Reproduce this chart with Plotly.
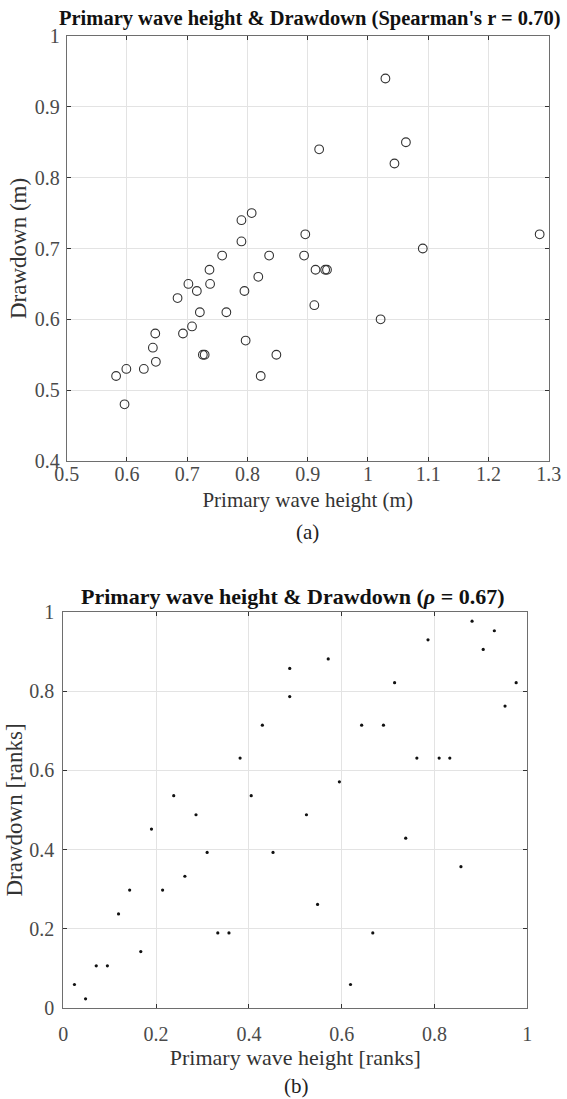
import plotly.graph_objects as go

# ---- data (a): raw values ----
a_wave_height = [0.582, 0.596, 0.599, 0.628, 0.643, 0.647, 0.648, 0.684, 0.693, 0.702,
                 0.708, 0.716, 0.721, 0.726, 0.729, 0.737, 0.738, 0.758, 0.765, 0.790,
                 0.790, 0.795, 0.797, 0.807, 0.818, 0.822, 0.836, 0.848, 0.894, 0.896,
                 0.911, 0.913, 0.919, 0.929, 0.932, 1.021, 1.029, 1.044, 1.063, 1.091,
                 1.285]
a_drawdown = [0.52, 0.48, 0.53, 0.53, 0.56, 0.58, 0.54, 0.63, 0.58, 0.65,
              0.59, 0.64, 0.61, 0.55, 0.55, 0.67, 0.65, 0.69, 0.61, 0.74,
              0.71, 0.64, 0.57, 0.75, 0.66, 0.52, 0.69, 0.55, 0.69, 0.72,
              0.62, 0.67, 0.84, 0.67, 0.67, 0.60, 0.94, 0.82, 0.85, 0.70,
              0.72]

# ---- data (b): ranks ----
b_wave_rank = [0.024, 0.048, 0.071, 0.095, 0.119, 0.143, 0.167, 0.190, 0.214, 0.238,
               0.262, 0.286, 0.310, 0.333, 0.357, 0.381, 0.405, 0.429, 0.452, 0.488,
               0.488, 0.524, 0.548, 0.571, 0.595, 0.619, 0.643, 0.667, 0.690, 0.714,
               0.738, 0.762, 0.786, 0.810, 0.833, 0.857, 0.881, 0.905, 0.929, 0.952,
               0.976]
b_drawdown_rank = [0.060, 0.024, 0.107, 0.107, 0.238, 0.298, 0.143, 0.452, 0.298, 0.536,
                   0.333, 0.488, 0.393, 0.190, 0.190, 0.631, 0.536, 0.714, 0.393, 0.857,
                   0.786, 0.488, 0.262, 0.881, 0.571, 0.060, 0.714, 0.190, 0.714, 0.821,
                   0.429, 0.631, 0.929, 0.631, 0.631, 0.357, 0.976, 0.905, 0.952, 0.762,
                   0.821]

a_xticks = [0.5, 0.6, 0.7, 0.8, 0.9, 1.0, 1.1, 1.2, 1.3]
a_xticklabels = ["0.5", "0.6", "0.7", "0.8", "0.9", "1", "1.1", "1.2", "1.3"]
a_yticks = [0.4, 0.5, 0.6, 0.7, 0.8, 0.9, 1.0]
a_yticklabels = ["0.4", "0.5", "0.6", "0.7", "0.8", "0.9", "1"]
b_ticks = [0, 0.2, 0.4, 0.6, 0.8, 1.0]
b_ticklabels = ["0", "0.2", "0.4", "0.6", "0.8", "1"]

title_a = "Primary wave height & Drawdown (Spearman's r = 0.70)"
title_b = "Primary wave height & Drawdown (<i>ρ</i> = 0.67)"

W, H = 567, 1099
SERIF = "Times New Roman, Liberation Serif, serif"
TICKCOL = "#4a4a4a"
FRAME = "#6e6e6e"
GRID = "#e3e3e3"
TICKFONT = dict(family=SERIF, size=20, color=TICKCOL)

def px_x(p):
    return p / W

def px_y(p):
    return 1 - p / H

fig = go.Figure()
fig.add_trace(go.Scatter(
    x=a_wave_height, y=a_drawdown, mode="markers", xaxis="x", yaxis="y",
    marker=dict(symbol="circle-open", size=8.7, color="#333333", line=dict(width=1.1)),
    showlegend=False, hoverinfo="x+y"))
fig.add_trace(go.Scatter(
    x=b_wave_rank, y=b_drawdown_rank, mode="markers", xaxis="x2", yaxis="y2",
    marker=dict(symbol="circle", size=3.2, color="#111111"),
    showlegend=False, hoverinfo="x+y"))

def axis(**kw):
    d = dict(
        showgrid=True, gridcolor=GRID, gridwidth=1, zeroline=False,
        showline=True, linecolor=FRAME, linewidth=1, mirror="ticks",
        ticks="inside", ticklen=4, tickcolor="#333333", tickwidth=1,
        tickfont=TICKFONT, fixedrange=True, tickmode="array", automargin=False,
    )
    d.update(kw)
    return d

fig.update_layout(
    template="none",
    width=W, height=H,
    margin=dict(l=0, r=0, t=0, b=0),
    paper_bgcolor="white", plot_bgcolor="white",
    font=dict(family=SERIF, size=20, color=TICKCOL),
    xaxis=axis(domain=[px_x(66.7), px_x(548.7)], range=[0.5, 1.3],
               tickvals=a_xticks, ticktext=a_xticklabels, anchor="y",
               ticklabelstandoff=-5,
               title=dict(text="Primary wave height (m)", standoff=8,
                          font=dict(family=SERIF, size=21, color="#333333"))),
    yaxis=axis(domain=[px_y(461), px_y(36)], range=[0.4, 1.0],
               tickvals=a_yticks, ticktext=a_yticklabels, anchor="x",
               ticklabelstandoff=2,
               title=dict(text="Drawdown (m)", standoff=1,
                          font=dict(family=SERIF, size=23, color="#333333"))),
    xaxis2=axis(domain=[px_x(63.3), px_x(527.3)], range=[0, 1],
                tickvals=b_ticks, ticktext=b_ticklabels, anchor="y2",
                ticklabelstandoff=8,
                title=dict(text="Primary wave height [ranks]", standoff=4,
                           font=dict(family=SERIF, size=22, color="#333333"))),
    yaxis2=axis(domain=[px_y(1008.3), px_y(611.7)], range=[0, 1],
                tickvals=b_ticks, ticktext=b_ticklabels, anchor="x2",
                ticklabelstandoff=4,
                title=dict(text="Drawdown [ranks]", standoff=0,
                           font=dict(family=SERIF, size=23, color="#333333"))),
    annotations=[
        dict(text="<b>" + title_a + "</b>", x=px_x(310), y=px_y(19), xref="paper", yref="paper",
             showarrow=False, xanchor="center", yanchor="middle",
             font=dict(family=SERIF, size=20.5, color="#111111")),
        dict(text="<b>" + title_b + "</b>", x=px_x(293), y=px_y(596), xref="paper", yref="paper",
             showarrow=False, xanchor="center", yanchor="middle",
             font=dict(family=SERIF, size=22, color="#111111")),
        dict(text="(a)", x=px_x(307), y=px_y(532), xref="paper", yref="paper",
             showarrow=False, xanchor="center", yanchor="middle",
             font=dict(family=SERIF, size=21, color="#222222")),
        dict(text="(b)", x=px_x(296), y=px_y(1086), xref="paper", yref="paper",
             showarrow=False, xanchor="center", yanchor="middle",
             font=dict(family=SERIF, size=21, color="#222222")),
    ],
)

fig.write_html("out.html", config={"displayModeBar": False},
               post_script="document.body.style.margin='0';document.body.style.padding='0';")
